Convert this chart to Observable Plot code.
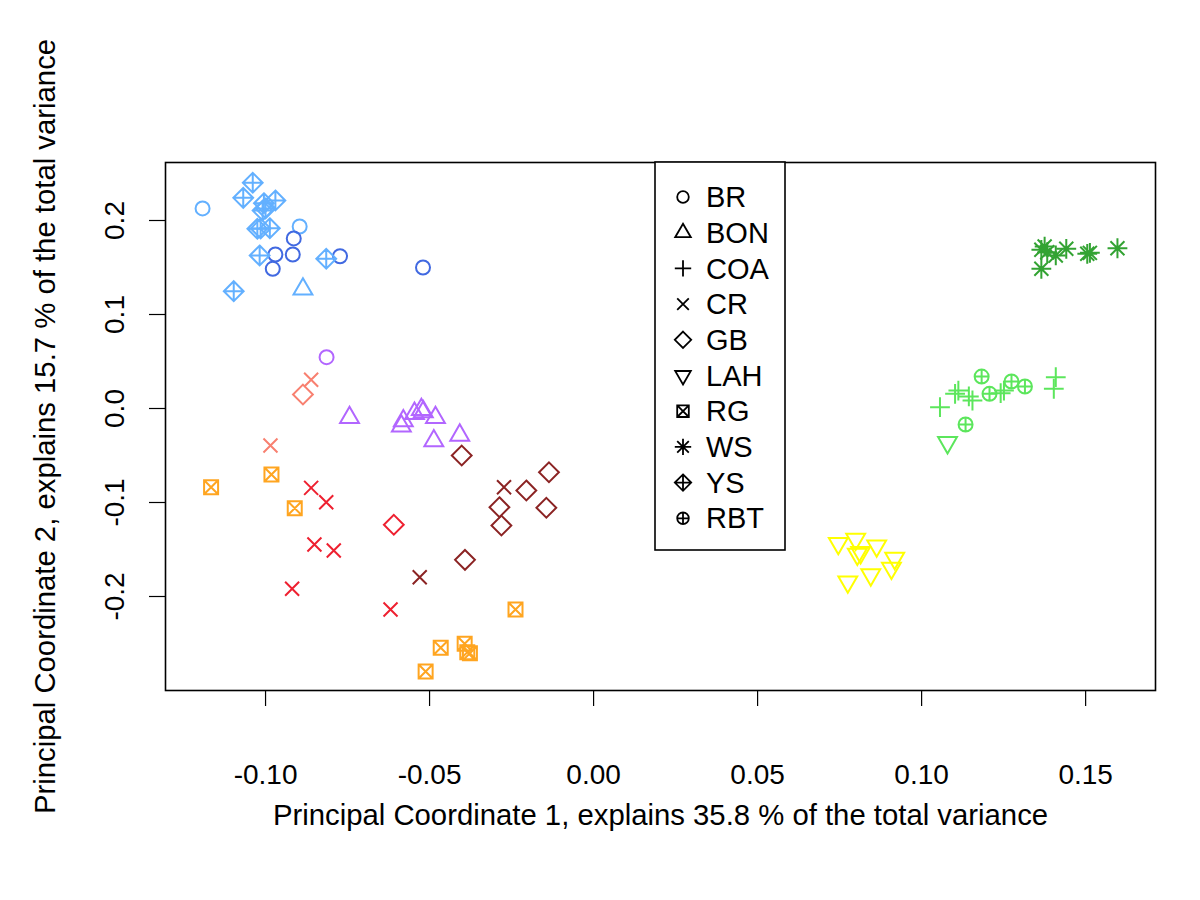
<!DOCTYPE html>
<html>
<head>
<meta charset="utf-8">
<script src="https://cdn.jsdelivr.net/npm/d3@7"></script>
<script src="https://cdn.jsdelivr.net/npm/@observablehq/plot@0.6"></script>
<style>
  html, body { margin: 0; padding: 0; background: #fff; }
  #chart { position: relative; width: 1200px; height: 900px; }
  svg { font-family: "Liberation Sans", Arial, Helvetica, sans-serif; }
</style>
</head>
<body>
<div id="chart"></div>
<script>
// ---- data: [PC1, PC2, population id] per sample group ----
const BR  = [[-0.1192,0.2128,"A"],[-0.0896,0.1936,"A"],[-0.0914,0.1809,"B"],[-0.0970,0.1638,"B"],[-0.0917,0.1638,"B"],[-0.0978,0.1486,"B"],[-0.0773,0.1620,"B"],[-0.0520,0.1500,"B"],[-0.0814,0.0546,"C"]];
const BON = [[-0.0886,0.1270,"A"],[-0.0744,-0.0096,"C"],[-0.0586,-0.0188,"C"],[-0.0580,-0.0131,"C"],[-0.0546,-0.0053,"C"],[-0.0525,-0.0011,"C"],[-0.0519,-0.0035,"C"],[-0.0482,-0.0096,"C"],[-0.0487,-0.0344,"C"],[-0.0408,-0.0284,"C"]];
const COA = [[0.1056,0.0014,"I"],[0.1102,0.0156,"I"],[0.1112,0.0191,"I"],[0.1144,0.0128,"I"],[0.1155,0.0085,"I"],[0.1241,0.0163,"I"],[0.1251,0.0191,"I"],[0.1409,0.0333,"I"],[0.1403,0.0210,"I"]];
const CR  = [[-0.0861,0.0305,"D"],[-0.0985,-0.0394,"D"],[-0.0861,-0.0844,"E"],[-0.0815,-0.0997,"E"],[-0.0851,-0.1447,"E"],[-0.0792,-0.1511,"E"],[-0.0919,-0.1918,"E"],[-0.0619,-0.2138,"E"],[-0.0273,-0.0837,"F"],[-0.0530,-0.1795,"F"]];
const GB  = [[-0.0886,0.0149,"D"],[-0.0609,-0.1237,"E"],[-0.0402,-0.0500,"F"],[-0.0205,-0.0872,"F"],[-0.0136,-0.0678,"F"],[-0.0287,-0.1050,"F"],[-0.0281,-0.1245,"F"],[-0.0144,-0.1056,"F"],[-0.0392,-0.1610,"F"]];
const LAH = [[0.0746,-0.1436,"H"],[0.0799,-0.1390,"H"],[0.0804,-0.1550,"H"],[0.0814,-0.1532,"H"],[0.0863,-0.1461,"H"],[0.0918,-0.1593,"H"],[0.0908,-0.1699,"H"],[0.0845,-0.1769,"H"],[0.0775,-0.1844,"H"],[0.1079,-0.0362,"I"]];
const RG  = [[-0.1166,-0.0837,"G"],[-0.0982,-0.0702,"G"],[-0.0911,-0.1061,"G"],[-0.0238,-0.2138,"G"],[-0.0466,-0.2546,"G"],[-0.0393,-0.2503,"G"],[-0.0385,-0.2593,"G"],[-0.0377,-0.2603,"G"],[-0.0512,-0.2798,"G"]];
const WS  = [[0.1365,0.1688,"J"],[0.1383,0.1663,"J"],[0.1375,0.1723,"J"],[0.1409,0.1628,"J"],[0.1441,0.1699,"J"],[0.1505,0.1646,"J"],[0.1513,0.1656,"J"],[0.1597,0.1705,"J"],[0.1365,0.1486,"J"]];
const YS  = [[-0.1039,0.2401,"A"],[-0.1068,0.2241,"A"],[-0.0970,0.2213,"A"],[-0.1005,0.2184,"A"],[-0.1000,0.2128,"A"],[-0.1009,0.2106,"A"],[-0.1025,0.1912,"A"],[-0.1015,0.1915,"A"],[-0.0987,0.1918,"A"],[-0.1018,0.1628,"A"],[-0.0815,0.1593,"A"],[-0.1097,0.1248,"A"]];
const RBT = [[0.1183,0.0340,"I"],[0.1207,0.0156,"I"],[0.1274,0.0287,"I"],[0.1315,0.0234,"I"],[0.1134,-0.0170,"I"]];

const groupNames = ["BR","BON","COA","CR","GB","LAH","RG","WS","YS","RBT"];
const groupData  = [BR, BON, COA, CR, GB, LAH, RG, WS, YS, RBT];
const popIds     = ["A","B","C","D","E","F","G","H","I","J"];
const popColors  = ["#63B0FF","#4169E1","#B266FF","#F88070","#EE2030","#8B2323","#FFA520","#FFFF00","#5CE65C","#33A333"];

const xTicks = [-0.10,-0.05,0.00,0.05,0.10,0.15];
const xTickLabels = ["-0.10","-0.05","0.00","0.05","0.10","0.15"];
const yTicks = [-0.2,-0.1,0.0,0.1,0.2];
const yTickLabels = ["-0.2","-0.1","0.0","0.1","0.2"];
const xTitle = "Principal Coordinate 1, explains 35.8 % of the total variance";
const yTitle = "Principal Coordinate 2, explains 15.7 % of the total variance";

// ---- R-style pch symbols ----
const S2 = Math.SQRT2;
function circ(c, r) { c.moveTo(r, 0); c.arc(0, 0, r, 0, 2 * Math.PI); }
function plus(c, s) { c.moveTo(-s, 0); c.lineTo(s, 0); c.moveTo(0, -s); c.lineTo(0, s); }
function times(c, s) { c.moveTo(-s, -s); c.lineTo(s, s); c.moveTo(-s, s); c.lineTo(s, -s); }
function diam(c, s) { c.moveTo(0, -s); c.lineTo(s, 0); c.lineTo(0, s); c.lineTo(-s, 0); c.closePath(); }
function tri(c, r, dir) { const h = 1.555 * r, b = 1.347 * r, yb = 0.778 * r;
  c.moveTo(0, -dir * h); c.lineTo(b, dir * yb); c.lineTo(-b, dir * yb); c.closePath(); }
const R = size => Math.sqrt(size / Math.PI);
const pchSymbols = [
  {draw(c, z) { circ(c, R(z)); }},                                   // BR  pch 1
  {draw(c, z) { tri(c, R(z), 1); }},                                 // BON pch 2
  {draw(c, z) { plus(c, S2 * R(z)); }},                              // COA pch 3
  {draw(c, z) { times(c, R(z)); }},                                  // CR  pch 4
  {draw(c, z) { diam(c, S2 * R(z)); }},                              // GB  pch 5
  {draw(c, z) { tri(c, R(z), -1); }},                                // LAH pch 6
  {draw(c, z) { const r = R(z); c.rect(-r, -r, 2 * r, 2 * r); times(c, r); }}, // RG pch 7
  {draw(c, z) { const r = R(z); times(c, r); plus(c, S2 * r); }},    // WS  pch 8
  {draw(c, z) { const s = S2 * R(z); diam(c, s); plus(c, s); }},     // YS  pch 9
  {draw(c, z) { const r = R(z); circ(c, r); plus(c, r); }}           // RBT pch 10
];

const FONT = 28;
const TITLE = 29.3;
const marks = [Plot.frame({stroke: "#000", strokeWidth: 1.6})];
groupData.forEach((arr, i) => {
  marks.push(Plot.dot(arr, {
    x: d => d[0], y: d => d[1], stroke: d => d[2],
    symbol: pchSymbols[i], r: 7, fill: "none", strokeWidth: 2
  }));
});
marks.push(
  Plot.axisX({ticks: xTicks, tickSize: 16, tickPadding: 58, fontSize: FONT,
    tickFormat: (d) => xTickLabels[xTicks.indexOf(d)], label: null, strokeWidth: 1.2}),
  Plot.axisY({ticks: yTicks, tickSize: 16, tickFormat: () => "", label: null, strokeWidth: 1.2}),
  Plot.text(yTicks, {y: d => d, text: (d, i) => yTickLabels[i], frameAnchor: "left", dx: -50,
    rotate: -90, fontSize: FONT, textAnchor: "middle", lineAnchor: "middle", fill: "#000"}),
  Plot.text([xTitle], {frameAnchor: "bottom", dy: 125, fontSize: TITLE, fill: "#000",
    textAnchor: "middle", lineAnchor: "middle"}),
  Plot.text([yTitle], {frameAnchor: "left", dx: -120, rotate: -90, fontSize: TITLE, fill: "#000",
    textAnchor: "middle", lineAnchor: "middle"})
);

const chart = Plot.plot({
  width: 1200, height: 900,
  marginLeft: 165, marginRight: 45, marginTop: 162, marginBottom: 210,
  style: {fontFamily: "'Liberation Sans', Arial, Helvetica, sans-serif", background: "#fff", color: "#000"},
  x: {domain: [-0.1305, 0.1713]},
  y: {domain: [-0.3, 0.2617]},
  color: {domain: popIds, range: popColors},
  marks
});
document.getElementById("chart").appendChild(chart);

// ---- legend (R legend box at the top of the plot region) ----
const svg = d3.select(chart);
const lg = svg.append("g").attr("transform", "translate(655,162)").attr("text-anchor", "start");
lg.append("rect").attr("x", 0).attr("y", 0).attr("width", 130).attr("height", 388)
  .attr("fill", "#fff").attr("stroke", "#000").attr("stroke-width", 1.6);
groupNames.forEach((name, i) => {
  const row = lg.append("g").attr("transform", `translate(0,${35 + i * 35.7})`);
  row.append("path").attr("transform", "translate(28,0)")
    .attr("d", d3.symbol(pchSymbols[i], Math.PI * 5.8 * 5.8)())
    .attr("fill", "none").attr("stroke", "#000").attr("stroke-width", 1.8);
  row.append("text").attr("x", 51).attr("y", 0).attr("dy", "0.35em")
    .attr("text-anchor", "start").attr("font-size", 29).attr("fill", "#000").text(name);
});
</script>
</body>
</html>
